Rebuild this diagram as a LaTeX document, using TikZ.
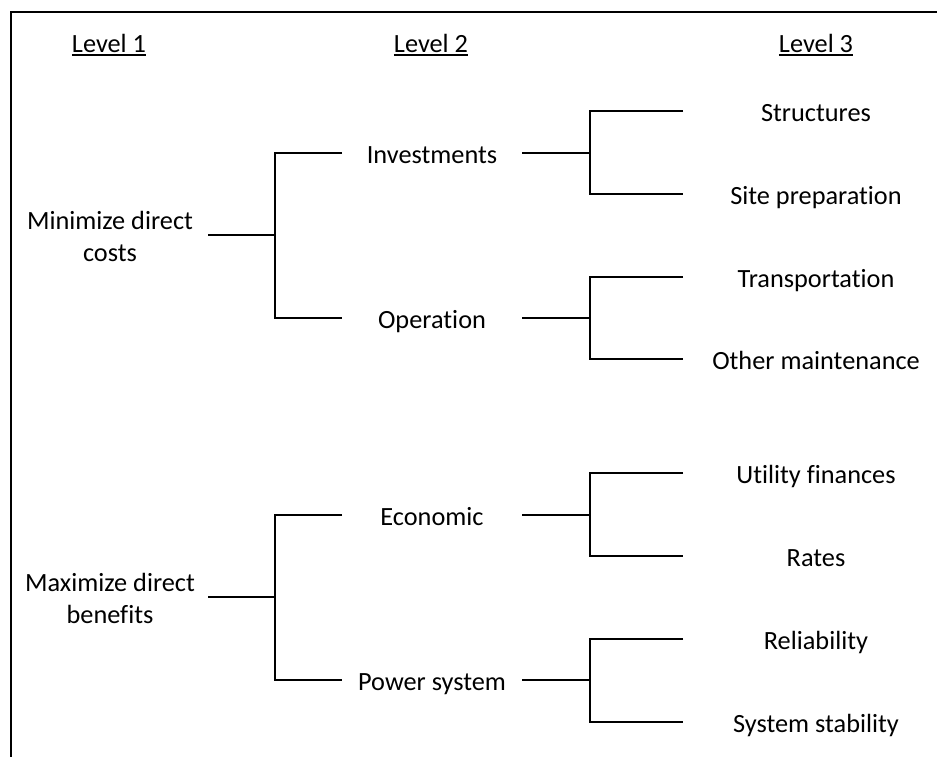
\documentclass[tikz,border=0pt]{standalone}
\usepackage{fontspec}
\setmainfont[Ligatures=NoCommon]{Carlito}
\begin{document}
\begin{tikzpicture}[x=1pt,y=-1pt,
  lbl/.style={inner sep=0pt, anchor=base, font=\fontsize{26.3}{32}\selectfont},
  wire/.style={line width=2.5pt},
  uline/.style={line width=2pt},
  frame/.style={line width=2.4pt}]
\useasboundingbox (0,0) rectangle (937,756);
\clip (0,0) rectangle (937,756);

% outer frame (only its top and left edges fall inside the page)
\draw[frame] (11,790) -- (11,12) -- (970,12);

% column headings
\node[lbl] (h1) at (109,52) {Level 1};
\node[lbl] (h2) at (431,52) {Level 2};
\node[lbl] (h3) at (816,52) {Level 3};
\foreach \h in {h1,h2,h3}
  \draw[uline] ([yshift=-2.5pt]\h.base west) -- ([yshift=-2.5pt]\h.base east);

% level 1 objectives
\node[lbl] (cost) at (110,229) {\begin{tabular}[t]{@{}c@{}}Minimize direct\\costs\end{tabular}};
\node[lbl] (bene) at (110,591) {\begin{tabular}[t]{@{}c@{}}Maximize direct\\benefits\end{tabular}};

% level 2 objectives
\node[lbl] (inv) at (432,163) {Investments};
\node[lbl] (ope) at (432,328) {Operation};
\node[lbl] (eco) at (432,525) {Economic};
\node[lbl] (pow) at (432,690) {Power system};

% level 3 objectives
\node[lbl] (str) at (816,121) {Structures};
\node[lbl] (sit) at (816,204) {Site preparation};
\node[lbl] (tra) at (816,287) {Transportation};
\node[lbl] (oth) at (816,369) {Other maintenance};
\node[lbl] (uti) at (816,483) {Utility finances};
\node[lbl] (rat) at (816,566) {Rates};
\node[lbl] (rel) at (816,649) {Reliability};
\node[lbl] (sys) at (816,732) {System stability};

% connector end points
\coordinate (costR) at (208,235);
\coordinate (beneR) at (208,597);
\coordinate (invL) at (342,153);
\coordinate (opeL) at (342,318);
\coordinate (ecoL) at (342,515);
\coordinate (powL) at (342,680);
\coordinate (invR) at (522,153);
\coordinate (opeR) at (522,318);
\coordinate (ecoR) at (522,515);
\coordinate (powR) at (522,680);
\coordinate (strL) at (683,111);
\coordinate (sitL) at (683,194);
\coordinate (traL) at (683,277);
\coordinate (othL) at (683,359);
\coordinate (utiL) at (683,473);
\coordinate (ratL) at (683,556);
\coordinate (relL) at (683,639);
\coordinate (sysL) at (683,722);

% level 1 -> level 2 brackets
\draw[wire] (costR) -- (275,235);
\draw[wire] (invL) -- (275,153) -- (275,318) -- (opeL);
\draw[wire] (beneR) -- (275,597);
\draw[wire] (ecoL) -- (275,515) -- (275,680) -- (powL);

% level 2 -> level 3 brackets
\draw[wire] (invR) -- (590,153);
\draw[wire] (strL) -- (590,111) -- (590,194) -- (sitL);
\draw[wire] (opeR) -- (590,318);
\draw[wire] (traL) -- (590,277) -- (590,359) -- (othL);
\draw[wire] (ecoR) -- (590,515);
\draw[wire] (utiL) -- (590,473) -- (590,556) -- (ratL);
\draw[wire] (powR) -- (590,680);
\draw[wire] (relL) -- (590,639) -- (590,722) -- (sysL);
\end{tikzpicture}
\end{document}
